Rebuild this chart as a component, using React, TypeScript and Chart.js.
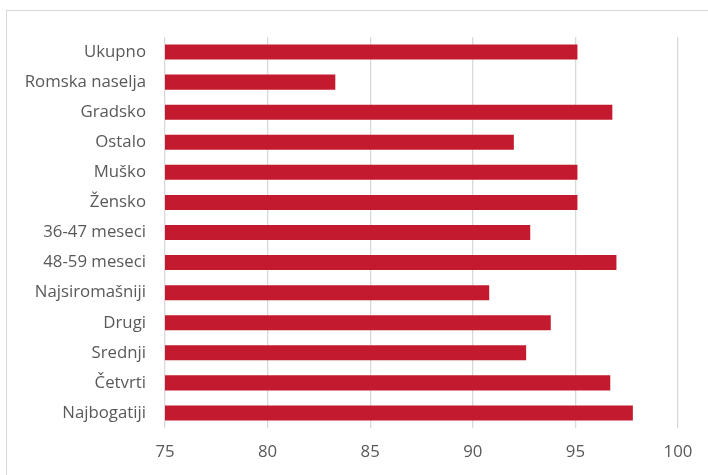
import React, { useEffect, useRef } from "react";
import { Chart, registerables } from "chart.js";

Chart.register(...registerables);

const categories: string[] = [
  "Ukupno",
  "Romska naselja",
  "Gradsko",
  "Ostalo",
  "Muško",
  "Žensko",
  "36-47 meseci",
  "48-59 meseci",
  "Najsiromašniji",
  "Drugi",
  "Srednji",
  "Četvrti",
  "Najbogatiji",
];

const values: number[] = [95.1, 83.3, 96.8, 92.0, 95.1, 95.1, 92.8, 97.0, 90.8, 93.8, 92.6, 96.7, 97.8];

const xMin = 75;
const xMax = 100;
const xStep = 5;

export default function App() {
  const ref = useRef<HTMLCanvasElement | null>(null);

  useEffect(() => {
    if (!ref.current) return;
    const chart = new Chart(ref.current, {
      type: "bar",
      data: {
        labels: categories,
        datasets: [
          {
            data: values,
            backgroundColor: "#C41A2F",
            borderWidth: 0,
            barPercentage: 1,
            categoryPercentage: 0.5,
          },
        ],
      },
      options: {
        indexAxis: "y",
        responsive: false,
        animation: false,
        maintainAspectRatio: false,
        layout: { padding: { top: 37, right: 30, bottom: 0, left: 0 } },
        plugins: { legend: { display: false }, tooltip: { enabled: false } },
        scales: {
          x: {
            min: xMin,
            max: xMax,
            ticks: {
              stepSize: xStep,
              color: "#595959",
              padding: 14,
              font: { family: "Open Sans", size: 16.8 },
            },
            grid: { color: "#d9d9d9", lineWidth: 1.3, drawTicks: false },
            border: { display: false },
            afterFit: (scale: any) => {
              scale.height = 47;
            },
          },
          y: {
            ticks: {
              color: "#595959",
              padding: 19,
              font: { family: "Open Sans", size: 16.8 },
            },
            grid: { display: false, drawTicks: false },
            border: { display: false },
            afterFit: (scale: any) => {
              scale.width = 165;
            },
          },
        },
      },
    });
    return () => chart.destroy();
  }, []);

  return (
    <div style={{ position: "absolute", left: 0, top: 0, width: 708, height: 475, overflow: "hidden", background: "#fff" }}>
      <div
        style={{
          position: "absolute",
          left: 6,
          top: 10,
          width: 720,
          height: 490,
          border: "1px solid #d9d9d9",
          boxSizing: "border-box",
        }}
      />
      <canvas ref={ref} width={708} height={475} style={{ position: "absolute", left: 0, top: 0, width: 708, height: 475 }} />
    </div>
  );
}
